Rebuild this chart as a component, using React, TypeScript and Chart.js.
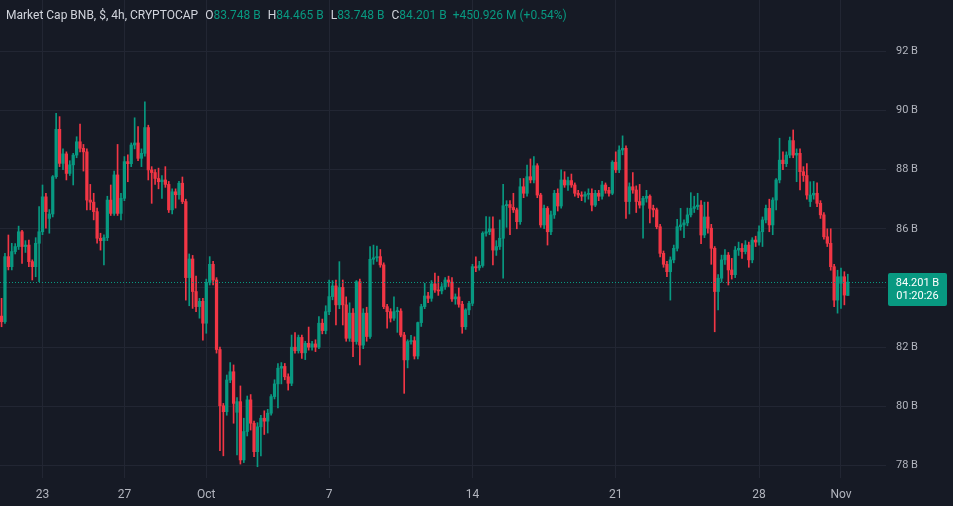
import { useEffect, useRef } from "react";
import { Chart, registerables } from "chart.js";

Chart.register(...registerables);

// 4h candles, Sep 21 00:00 -> Nov 1 08:00 (billions USD)
const opens = [
  83.05, 82.86, 85.06, 84.72, 85.23, 85.40, 85.90, 85.40, 85.45, 84.89, 84.72, 85.51, 85.90, 87.08, 86.35, 86.50, 87.76, 89.36, 88.21, 88.53,
  87.87, 88.16, 88.49, 88.94, 88.72, 88.60, 86.97, 86.90, 86.58, 85.68, 85.60, 85.70, 86.97, 86.52, 87.82, 86.52, 87.03, 88.27, 88.20, 88.83,
  88.90, 88.38, 88.55, 89.42, 87.99, 87.90, 87.70, 87.59, 87.65, 87.50, 86.64, 87.25, 87.15, 87.54, 86.92, 84.35, 84.98, 83.88, 83.37, 83.55,
  82.81, 84.19, 84.80, 84.27, 81.92, 80.02, 79.82, 80.89, 81.17, 79.80, 80.16, 78.19, 79.15, 80.22, 79.43, 78.47, 79.31, 79.60, 79.50, 79.77,
  80.33, 80.76, 81.29, 81.35, 81.00, 80.78, 82.00, 81.88, 82.33, 81.81, 82.13, 82.00, 82.11, 82.00, 82.81, 82.56, 83.20, 83.71, 84.07, 83.43,
  84.02, 83.43, 82.30, 83.15, 82.19, 84.21, 82.07, 83.15, 82.36, 84.97, 85.02, 85.06, 84.78, 83.37, 83.20, 82.98, 83.20, 83.22, 82.41, 81.57,
  82.19, 82.22, 81.70, 82.83, 83.37, 83.73, 83.65, 84.14, 83.93, 83.90, 84.04, 84.27, 84.20, 83.63, 83.70, 83.45, 82.69, 83.26, 83.48, 84.72,
  84.68, 84.76, 85.85, 85.90, 86.00, 85.28, 85.40, 85.68, 86.78, 86.82, 86.72, 86.64, 86.24, 87.42, 87.20, 87.76, 87.65, 88.13, 87.14, 86.13,
  86.69, 85.90, 86.47, 87.20, 86.77, 87.65, 87.48, 87.63, 87.48, 87.20, 87.14, 87.10, 87.16, 87.20, 86.80, 87.20, 87.10, 87.48, 87.30, 87.20,
  88.25, 87.99, 88.66, 88.72, 86.92, 87.42, 87.31, 86.92, 86.80, 87.03, 87.10, 86.69, 86.64, 86.07, 85.17, 84.80, 84.55, 84.95, 85.34, 86.07,
  86.13, 86.20, 86.47, 86.69, 86.75, 86.80, 85.79, 86.40, 86.02, 85.34, 83.88, 84.33, 84.95, 85.11, 84.61, 84.45, 85.28, 85.34, 85.23, 85.45,
  84.95, 85.62, 85.55, 85.90, 86.30, 86.69, 86.13, 86.97, 87.65, 88.32, 88.20, 88.49, 88.98, 88.49, 88.55, 87.93, 87.80, 86.92, 87.14, 87.20,
  86.86, 86.47, 85.73, 85.51, 84.72, 83.59, 84.16, 84.38, 83.748,
];
const highs = [
  83.65, 85.17, 85.79, 85.51, 85.50, 86.09, 85.95, 85.60, 85.62, 84.95, 85.70, 86.75, 87.48, 87.20, 86.65, 87.80, 89.90, 89.79, 88.70, 88.60,
  88.30, 88.55, 89.11, 89.54, 88.85, 88.70, 87.50, 87.20, 86.70, 85.85, 85.80, 87.10, 87.48, 87.95, 88.85, 87.20, 88.44, 88.50, 88.90, 89.75,
  89.45, 88.70, 90.29, 89.50, 88.10, 88.00, 88.05, 87.80, 88.10, 87.60, 87.35, 87.35, 87.60, 87.75, 87.00, 85.15, 85.10, 84.40, 83.65, 83.65,
  84.30, 85.06, 84.90, 84.35, 82.00, 80.10, 81.06, 81.48, 81.40, 80.30, 80.69, 79.60, 80.35, 80.40, 79.50, 79.45, 79.70, 79.85, 79.90, 80.40,
  80.90, 81.45, 81.48, 81.45, 81.10, 82.41, 82.49, 82.41, 82.41, 82.20, 82.68, 82.20, 82.25, 83.03, 82.95, 83.40, 84.27, 84.25, 84.27, 84.89,
  84.27, 83.70, 83.50, 83.30, 84.25, 84.30, 83.30, 83.35, 85.40, 85.45, 85.42, 85.30, 84.85, 83.45, 83.30, 83.70, 83.35, 83.30, 82.50, 82.25,
  82.40, 82.35, 82.85, 83.45, 84.16, 83.85, 84.25, 84.50, 84.40, 84.15, 84.35, 84.40, 84.35, 83.80, 84.00, 83.55, 83.30, 83.55, 84.80, 85.05,
  84.90, 85.90, 86.41, 86.40, 86.40, 85.60, 86.30, 87.50, 86.95, 86.95, 87.20, 86.70, 87.70, 87.70, 88.15, 88.36, 88.44, 88.20, 87.20, 86.80,
  86.75, 86.60, 87.30, 87.35, 87.99, 87.93, 87.75, 87.85, 87.55, 87.30, 87.25, 87.25, 87.35, 87.35, 87.30, 87.30, 87.60, 87.55, 87.40, 88.30,
  88.60, 88.80, 89.14, 88.80, 87.55, 87.90, 87.45, 87.50, 87.10, 87.30, 87.15, 86.80, 86.70, 86.15, 85.25, 84.90, 85.05, 85.45, 86.32, 86.69,
  86.30, 86.70, 87.22, 87.10, 87.20, 86.95, 86.90, 86.90, 86.15, 85.40, 84.45, 85.11, 85.30, 85.20, 85.00, 85.40, 85.55, 85.50, 85.60, 85.55,
  85.70, 85.75, 86.10, 86.40, 86.80, 87.00, 87.05, 87.70, 89.06, 88.60, 88.60, 89.10, 89.34, 88.70, 88.70, 88.10, 88.20, 87.59, 87.60, 87.55,
  86.95, 86.55, 86.00, 86.00, 84.80, 84.60, 84.67, 84.55, 84.465,
];
const lows = [
  82.69, 82.80, 84.61, 84.61, 85.15, 85.30, 84.83, 85.20, 84.72, 84.27, 84.38, 84.21, 85.80, 86.02, 85.85, 86.40, 87.70, 88.10, 88.00, 87.65,
  87.80, 87.48, 88.40, 88.60, 87.95, 86.64, 86.64, 86.30, 85.51, 85.28, 84.78, 85.60, 86.45, 86.45, 86.45, 86.30, 86.95, 87.59, 88.10, 88.70,
  88.30, 88.10, 88.45, 87.65, 86.86, 87.50, 87.35, 87.03, 87.40, 86.55, 86.50, 86.70, 87.00, 86.85, 83.59, 83.40, 83.31, 83.20, 82.98, 82.24,
  82.47, 84.10, 84.10, 81.80, 78.50, 78.33, 79.70, 80.80, 79.43, 78.36, 78.05, 78.10, 79.00, 79.20, 78.30, 77.96, 78.33, 79.05, 79.10, 79.70,
  80.25, 79.95, 80.76, 80.90, 80.55, 80.70, 81.80, 81.80, 81.62, 81.58, 81.90, 81.90, 81.85, 81.95, 82.45, 82.45, 83.10, 83.60, 82.75, 83.30,
  82.75, 82.20, 82.20, 81.68, 82.10, 81.40, 81.95, 82.20, 82.30, 84.80, 84.90, 84.70, 83.30, 82.64, 82.85, 82.90, 82.50, 82.35, 80.44, 81.30,
  82.10, 81.60, 81.60, 82.70, 83.30, 83.50, 83.55, 83.85, 83.75, 83.80, 83.95, 84.05, 83.55, 83.45, 83.35, 82.47, 82.60, 83.10, 83.40, 84.55,
  84.60, 84.70, 85.75, 85.80, 84.78, 85.10, 85.30, 84.33, 86.05, 85.80, 86.55, 86.00, 86.15, 87.05, 87.10, 87.55, 87.55, 87.05, 86.05, 86.00,
  85.45, 85.80, 86.35, 86.60, 86.70, 87.40, 87.30, 87.40, 87.10, 87.05, 86.95, 86.90, 87.00, 86.60, 86.75, 86.95, 87.00, 87.20, 87.10, 87.15,
  87.90, 87.90, 88.50, 86.35, 86.50, 87.20, 86.55, 86.70, 85.68, 86.90, 86.20, 86.40, 86.00, 85.05, 84.70, 84.38, 83.59, 84.85, 85.25, 85.95,
  85.70, 86.10, 86.40, 86.55, 86.65, 85.50, 85.70, 85.85, 84.80, 82.52, 83.26, 84.20, 84.80, 84.10, 84.30, 84.35, 85.10, 85.00, 85.15, 84.70,
  84.85, 85.40, 85.45, 85.40, 86.20, 85.90, 85.80, 86.64, 87.55, 88.00, 88.10, 88.40, 88.40, 87.59, 87.31, 87.60, 87.00, 86.75, 87.00, 86.75,
  86.35, 85.65, 85.40, 84.60, 83.37, 83.15, 83.31, 83.43, 83.748,
];
const closes = [
  82.86, 85.06, 84.72, 85.23, 85.40, 85.90, 85.40, 85.45, 84.89, 84.72, 85.51, 85.90, 87.08, 86.58, 86.50, 87.76, 89.36, 88.21, 88.53, 87.87,
  88.16, 88.49, 88.94, 88.72, 88.60, 86.97, 86.90, 86.58, 85.68, 85.60, 85.70, 86.97, 86.52, 87.82, 86.52, 87.03, 88.27, 88.20, 88.83, 88.90,
  88.38, 88.55, 89.42, 87.99, 87.90, 87.70, 87.59, 87.65, 87.50, 86.64, 87.25, 87.15, 87.54, 86.92, 84.35, 84.98, 83.88, 83.37, 83.55, 82.81,
  84.19, 84.80, 84.27, 81.92, 80.02, 79.82, 80.89, 81.17, 80.10, 80.16, 78.19, 79.15, 80.22, 79.43, 78.47, 79.31, 79.60, 79.50, 79.77, 80.33,
  80.76, 81.29, 81.35, 81.00, 80.78, 82.00, 81.88, 82.33, 81.81, 82.13, 82.00, 82.11, 82.00, 82.81, 82.56, 83.20, 83.71, 84.07, 83.43, 84.02,
  83.43, 82.30, 83.15, 82.19, 84.21, 82.07, 83.15, 82.36, 84.97, 85.02, 85.06, 84.78, 83.37, 83.20, 82.98, 83.20, 83.22, 82.41, 81.57, 82.19,
  82.22, 81.70, 82.83, 83.37, 83.73, 83.65, 84.14, 83.93, 83.90, 84.04, 84.27, 84.20, 83.63, 83.70, 83.45, 82.69, 83.26, 83.48, 84.72, 84.68,
  84.76, 85.85, 85.90, 86.00, 85.28, 85.40, 85.68, 86.78, 86.82, 86.72, 86.64, 86.24, 87.42, 87.20, 87.76, 87.65, 88.13, 87.14, 86.13, 86.69,
  85.90, 86.47, 87.20, 86.77, 87.65, 87.48, 87.63, 87.48, 87.20, 87.14, 87.10, 87.16, 87.20, 86.80, 87.20, 87.10, 87.48, 87.30, 87.20, 88.25,
  87.99, 88.66, 88.72, 86.92, 87.42, 87.31, 86.92, 86.80, 87.03, 87.10, 86.69, 86.64, 86.07, 85.17, 84.80, 84.55, 84.95, 85.34, 86.07, 86.13,
  86.20, 86.47, 86.69, 86.75, 86.80, 85.79, 86.40, 86.02, 85.34, 83.88, 84.33, 84.95, 85.11, 84.61, 84.45, 85.28, 85.34, 85.23, 85.45, 84.95,
  85.62, 85.55, 85.90, 86.30, 86.69, 86.13, 86.97, 87.65, 88.32, 88.20, 88.49, 88.98, 88.49, 88.55, 87.93, 87.80, 87.14, 87.14, 87.20, 86.86,
  86.47, 85.73, 85.51, 84.72, 83.59, 84.38, 84.38, 83.76, 84.201,
];

// time axis: candle index of each labelled midnight
const tickIndex = [12, 36, 60, 96, 138, 180, 222, 246];
const tickLabels = ["23", "27", "Oct", "7", "14", "21", "28", "Nov"];
const priceTicks = [78, 80, 82, 84, 86, 88, 90, 92];

const lastPrice = 84.201;
const countdown = "01:20:26";
const headerTitle = "Market Cap BNB, $, 4h, CRYPTOCAP";
const headerKeys = ["O", "H", "L", "C"];
const headerValues = ["83.748 B", "84.465 B", "83.748 B", "84.201 B"];
const headerChange = "+450.926 M (+0.54%)";

const BG = "#161a25";
const GRID = "#222633";
const TEXT = "#b2b5be";
const UP = "#089981";
const DOWN = "#f23645";

const lastPricePlugin = {
  id: "lastPrice",
  afterDatasetsDraw(chart: any) {
    const { ctx, chartArea, scales } = chart;
    const y = Math.round(scales.y.getPixelForValue(lastPrice)) + 0.5;
    ctx.save();
    ctx.strokeStyle = UP;
    ctx.lineWidth = 1;
    ctx.setLineDash([1, 2]);
    ctx.beginPath();
    ctx.moveTo(chartArea.left, y);
    ctx.lineTo(chartArea.right, y);
    ctx.stroke();
    ctx.restore();
  },
  afterDraw(chart: any) {
    const { ctx, chartArea, scales } = chart;
    const y = scales.y.getPixelForValue(lastPrice);
    const left = chartArea.right + 2;
    const w = 59;
    const top = y - 9;
    const h = 33;
    ctx.save();
    ctx.fillStyle = UP;
    ctx.beginPath();
    if ((ctx as any).roundRect) (ctx as any).roundRect(left, top, w, h, 2);
    else ctx.rect(left, top, w, h);
    ctx.fill();
    ctx.fillStyle = "#ffffff";
    ctx.font = "11px Roboto";
    ctx.textAlign = "center";
    ctx.textBaseline = "middle";
    ctx.fillText(`${lastPrice.toFixed(3)} B`, left + w / 2, y + 1);
    ctx.fillText(countdown, left + w / 2, y + 14);
    ctx.restore();
  },
};

function CandleChart() {
  const ref = useRef<HTMLCanvasElement | null>(null);
  useEffect(() => {
    if (!ref.current) return;
    Chart.defaults.font.family = "Roboto";
    const colors = closes.map((c, i) => (c >= opens[i] ? UP : DOWN));
    const wickData = closes.map((_, i) => ({ x: i, y: [lows[i], highs[i]] }));
    const bodyData = closes.map((c, i) => ({
      x: i,
      y: [Math.min(opens[i], c), Math.max(opens[i], c)],
    }));
    const chart = new Chart(ref.current, {
      type: "bar",
      data: {
        datasets: [
          {
            data: wickData as any,
            backgroundColor: colors,
            barThickness: 1,
            grouped: false,
            borderWidth: 0,
            borderSkipped: false,
            order: 2,
          } as any,
          {
            data: bodyData as any,
            backgroundColor: colors,
            barThickness: 2.6,
            grouped: false,
            borderWidth: 0,
            borderSkipped: false,
            minBarLength: 1,
            order: 1,
          } as any,
        ],
      },
      options: {
        animation: false,
        responsive: true,
        maintainAspectRatio: false,
        layout: { padding: 0 },
        plugins: { legend: { display: false }, tooltip: { enabled: false } },
        scales: {
          x: {
            type: "linear",
            offset: false,
            min: -0.457,
            max: 259.2,
            grid: { color: GRID, drawTicks: false, offset: false },
            border: { display: false },
            ticks: {
              color: TEXT,
              font: { size: 12 },
              padding: 10,
              autoSkip: false,
              maxRotation: 0,
              callback: (v: any) => {
                const k = tickIndex.indexOf(Number(v));
                return k >= 0 ? tickLabels[k] : "";
              },
            },
            afterBuildTicks: (s: any) => {
              s.ticks = tickIndex.map((v) => ({ value: v }));
            },
            afterFit: (s: any) => {
              s.height = 28;
              s.paddingLeft = 0;
              s.paddingRight = 0;
            },
          },
          y: {
            type: "linear",
            position: "right",
            min: 77.58,
            max: 93.73,
            grid: { color: GRID, drawTicks: false },
            border: { display: false },
            ticks: {
              color: TEXT,
              font: { size: 11 },
              padding: 10,
              callback: (v: any) => `${v} B`,
            },
            afterBuildTicks: (s: any) => {
              s.ticks = priceTicks.map((v) => ({ value: v }));
            },
            afterFit: (s: any) => {
              s.width = 67;
              s.paddingTop = 0;
              s.paddingBottom = 0;
            },
          },
        },
      } as any,
      plugins: [lastPricePlugin],
    });
    return () => chart.destroy();
  }, []);
  return <canvas ref={ref} />;
}

export default function App() {
  return (
    <div
      style={{
        position: "fixed",
        left: 0,
        top: 0,
        width: 953,
        height: 506,
        background: BG,
        overflow: "hidden",
        fontFamily: "Roboto, sans-serif",
      }}
    >
      <div style={{ position: "absolute", left: 0, top: 0, width: 953, height: 506 }}>
        <CandleChart />
      </div>
      <div
        style={{
          position: "absolute",
          left: 6,
          top: 7,
          fontSize: 12,
          lineHeight: "16px",
          color: "#d1d4dc",
          whiteSpace: "nowrap",
          pointerEvents: "none",
        }}
      >
        <span>{headerTitle}</span>
        {headerKeys.map((k, i) => (
          <span key={k} style={{ marginLeft: 7 }}>
            {k}
            <span style={{ color: UP }}>{headerValues[i]}</span>
          </span>
        ))}
        <span style={{ marginLeft: 6, color: UP }}>{headerChange}</span>
      </div>
    </div>
  );
}
